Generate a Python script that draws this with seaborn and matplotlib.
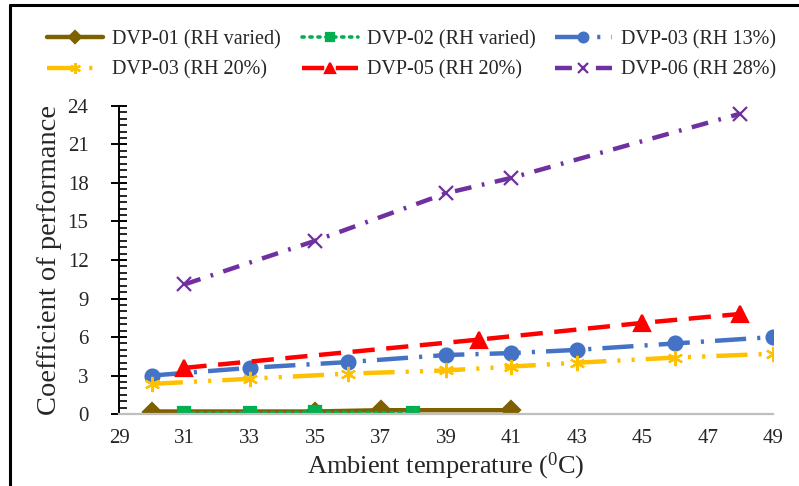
import matplotlib
matplotlib.use("Agg")
import matplotlib.pyplot as plt
from matplotlib.lines import Line2D
from matplotlib.ticker import MultipleLocator, FixedLocator
import seaborn as sns
import pandas as pd

# Coefficient of performance versus ambient temperature for each DVP configuration
t01 = [30, 35, 37, 41]
cop01 = [0.2, 0.2, 0.3, 0.3]

t02 = [31, 33, 35, 38]
cop02 = [0.1, 0.1, 0.15, 0.1]

t03 = [30, 33, 36, 39, 41, 43, 46, 49]
cop03_rh13 = [3.0, 3.6, 4.05, 4.6, 4.75, 5.0, 5.5, 6.0]
cop03_rh20 = [2.35, 2.75, 3.15, 3.4, 3.7, 4.0, 4.4, 4.7]

t05 = [31, 40, 45, 48]
cop05 = [3.6, 5.8, 7.1, 7.8]

t06 = [31, 35, 39, 41, 48]
cop06 = [10.1, 13.5, 17.2, 18.4, 23.4]

labels = ["DVP-01 (RH varied)", "DVP-02 (RH varied)", "DVP-03 (RH 13%)",
          "DVP-03 (RH 20%)", "DVP-05 (RH 20%)", "DVP-06 (RH 28%)"]
x_ticks = list(range(29, 50, 2))

sns.set_style("white")
plt.rcParams["font.family"] = ["Liberation Serif", "DejaVu Serif"]
plt.rcParams["mathtext.fontset"] = "custom"
plt.rcParams["mathtext.rm"] = "Liberation Serif"

fig = plt.figure(figsize=(7.99, 4.86), dpi=100)
ax = fig.add_axes([0.149, 0.148, 0.8185, 0.634])

series = [
    dict(x=t01, y=cop01, color="#7F6000", marker="D", ms=9, ls="-", lw=3.2),
    dict(x=t02, y=cop02, color="#00B050", marker="s", ms=8.5, ls=(0, (0.6, 1.6)), lw=2.6, cap="round"),
    dict(x=t03, y=cop03_rh13, color="#4472C4", marker="o", ms=10, ls=(0, (7, 2.5, 0.7, 2.5)), lw=3.2),
    dict(x=t03, y=cop03_rh20, color="#FFC000", marker=(6, 2, 0), ms=11, ls=(0, (7, 2.5, 0.7, 2.5, 0.7, 2.5)), lw=3.2),
    dict(x=t05, y=cop05, color="#FF0000", marker="^", ms=11, ls=(0, (5, 2.6)), lw=3.2),
    dict(x=t06, y=cop06, color="#7030A0", marker="x", ms=10, ls=(0, (3.8, 2.4, 0.6, 2.4)), lw=3.2),
]

for s in series:
    df = pd.DataFrame({"T": s["x"], "COP": s["y"]})
    sns.lineplot(data=df, x="T", y="COP", ax=ax, color=s["color"],
                 marker=s["marker"], markersize=s["ms"], linewidth=s["lw"],
                 linestyle=s["ls"], markeredgecolor=s["color"],
                 markerfacecolor=s["color"], markeredgewidth=1.6,
                 dash_capstyle=s.get("cap", "butt"), legend=False)

ax.set_xlim(29, 49)
ax.set_ylim(0, 24)
ax.xaxis.set_major_locator(FixedLocator(x_ticks))
ax.yaxis.set_major_locator(MultipleLocator(3))
ax.yaxis.set_minor_locator(MultipleLocator(0.5))

for side in ["top", "right"]:
    ax.spines[side].set_visible(False)
ax.spines["left"].set_color("black")
ax.spines["left"].set_linewidth(1.4)
ax.spines["bottom"].set_color("#BFBFBF")
ax.spines["bottom"].set_linewidth(1.6)

ax.tick_params(axis="y", which="major", direction="inout", length=12, width=1.4,
               labelsize=15, pad=16, left=True, color="black")
ax.tick_params(axis="y", which="minor", direction="in", length=6, width=1.2,
               left=True, color="black")
ax.tick_params(axis="x", which="both", length=0, labelsize=15, pad=11)

ax.set_xlabel(r"Ambient temperature ($\mathregular{^0}$C)", fontsize=19)
ax.set_ylabel("Coefficient of performance", fontsize=20.5)
ax.xaxis.set_label_coords(0.5, -0.12)
ax.yaxis.set_label_coords(-0.087, 0.5)

# Legend in three columns above the plot area
lines = ax.get_lines()
col_x = [0.0588, 0.378, 0.695]
for i, x0 in enumerate(col_x):
    idx = [i, i + 3]
    fig.legend([lines[j] for j in idx], [labels[j] for j in idx],
               loc="upper left", bbox_to_anchor=(x0, 0.938), frameon=False,
               fontsize=14.5, handlelength=2.8, handletextpad=0.45,
               labelspacing=0.55, borderaxespad=0, borderpad=0,
               markerscale=0.7)

# Border lines along the left and top of the figure
fig.add_artist(Line2D([0.0125, 0.0125], [0, 0.99], transform=fig.transFigure,
                      color="black", lw=2.2))
fig.add_artist(Line2D([0.0125, 1.0], [0.99, 0.99], transform=fig.transFigure,
                      color="black", lw=2.2))

fig.savefig("out.png", dpi=100)
